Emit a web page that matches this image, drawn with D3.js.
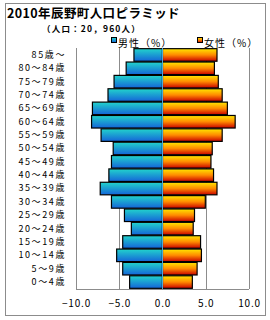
<!DOCTYPE html>
<html>
<head>
<meta charset="utf-8">
<script src="https://cdn.jsdelivr.net/npm/d3@7"></script>
<style>
  body { margin: 0; background: #fff; }
  text { font-family: "Noto Sans CJK JP", "Noto Sans", sans-serif; }
</style>
</head>
<body>
<div id="chart"></div>
<script>
// age groups, top to bottom
const ageGroups = ["85歳～", "80～84歳", "75～79歳", "70～74歳", "65～69歳", "60～64歳",
    "55～59歳", "50～54歳", "45～49歳", "40～44歳", "35～39歳", "30～34歳",
    "25～29歳", "20～24歳", "15～19歳", "10～14歳", "5～9歳", "0～4歳"];
// percent of total population
const maleValues = [3.3, 4.2, 5.6, 6.3, 8.1, 8.2, 7.1, 5.7, 5.9, 6.2, 7.2, 5.9, 4.4, 3.6, 4.6, 5.3, 4.6, 3.8];
const femaleValues = [6.3, 6.0, 6.45, 6.9, 7.5, 8.4, 6.9, 5.75, 5.6, 5.9, 6.3, 4.95, 3.7, 3.55, 4.4, 4.5, 4.0, 3.45];
const xTicks = [-10, -5, 0, 5, 10];
const titleText = "2010年辰野町人口ピラミッド";
const subtitleText = "（人口：20，960人）";
const legendLabels = ["男性（%）", "女性（%）"];

const width = 270, height = 320;
const margin = { top: 48, right: 21, bottom: 31, left: 76 };
const innerW = width - margin.left - margin.right;
const innerH = height - margin.top - margin.bottom;

const svg = d3.select("#chart").append("svg")
    .attr("width", width)
    .attr("height", height);

const defs = svg.append("defs");
const maleGrad = defs.append("linearGradient").attr("id", "maleGrad")
    .attr("x1", 0).attr("y1", 0).attr("x2", 0).attr("y2", 1);
maleGrad.append("stop").attr("offset", "0%").attr("stop-color", "#22d4cc");
maleGrad.append("stop").attr("offset", "100%").attr("stop-color", "#1464d8");
const femaleGrad = defs.append("linearGradient").attr("id", "femaleGrad")
    .attr("x1", 0).attr("y1", 0).attr("x2", 0).attr("y2", 1);
femaleGrad.append("stop").attr("offset", "0%").attr("stop-color", "#ffe800");
femaleGrad.append("stop").attr("offset", "50%").attr("stop-color", "#ff8a00");
femaleGrad.append("stop").attr("offset", "100%").attr("stop-color", "#c80000");

// outer frame
svg.append("rect")
    .attr("x", 5.5).attr("y", 3.5)
    .attr("width", 260).attr("height", 312)
    .attr("fill", "none").attr("stroke", "#8c8c8c");

svg.append("text")
    .attr("x", 7).attr("y", 17.5)
    .attr("font-size", 12.5).attr("font-weight", "bold")
    .attr("letter-spacing", 0.4)
    .text(titleText);

svg.append("text")
    .attr("x", 42).attr("y", 31.5)
    .attr("font-size", 8.5).attr("font-weight", "bold")
    .attr("letter-spacing", 1.2)
    .text(subtitleText);

// legend
const legend = svg.append("g");
[[111, "url(#maleGrad)"], [197, "url(#femaleGrad)"]].forEach((d, i) => {
    legend.append("rect")
        .attr("x", d[0] + 0.5).attr("y", 37.5)
        .attr("width", 5).attr("height", 5)
        .attr("fill", d[1]).attr("stroke", "#000");
    legend.append("text")
        .attr("x", d[0] + 7).attr("y", 46.5)
        .attr("font-size", 10)
        .attr("letter-spacing", 1)
        .text(legendLabels[i]);
});

const chart = svg.append("g")
    .attr("transform", `translate(${margin.left},${margin.top})`);

const xScale = d3.scaleLinear().domain([-10, 10]).range([0, innerW]);
const yScale = d3.scaleBand().domain(ageGroups).range([0, innerH]).paddingInner(0.06).paddingOuter(0.05);

// gridlines
chart.selectAll(".grid")
    .data(xTicks)
    .join("line")
    .attr("x1", d => Math.round(xScale(d)) + 0.5)
    .attr("x2", d => Math.round(xScale(d)) + 0.5)
    .attr("y1", 0).attr("y2", innerH)
    .attr("stroke", "#8c8c8c");

chart.append("line")
    .attr("x1", 0).attr("x2", innerW)
    .attr("y1", innerH + 0.5).attr("y2", innerH + 0.5)
    .attr("stroke", "#8c8c8c");

// male bars (negative side)
chart.selectAll(".male")
    .data(maleValues)
    .join("rect")
    .attr("x", d => xScale(-d))
    .attr("y", (d, i) => yScale(ageGroups[i]))
    .attr("width", d => xScale(0) - xScale(-d))
    .attr("height", yScale.bandwidth())
    .attr("fill", "url(#maleGrad)")
    .attr("stroke", "#000")
    .attr("stroke-width", 1.2);

// female bars
chart.selectAll(".female")
    .data(femaleValues)
    .join("rect")
    .attr("x", xScale(0))
    .attr("y", (d, i) => yScale(ageGroups[i]))
    .attr("width", d => xScale(d) - xScale(0))
    .attr("height", yScale.bandwidth())
    .attr("fill", "url(#femaleGrad)")
    .attr("stroke", "#000")
    .attr("stroke-width", 1.2);

// center axis line
chart.append("line")
    .attr("x1", xScale(0)).attr("x2", xScale(0))
    .attr("y1", 0).attr("y2", innerH)
    .attr("stroke", "#4aa8d8").attr("stroke-width", 1);

// y axis labels
const yAxis = d3.axisLeft(yScale).tickSize(0).tickPadding(10);
chart.append("g")
    .call(yAxis)
    .call(g => g.select(".domain").attr("stroke", "#8c8c8c"))
    .call(g => g.selectAll("text")
        .attr("font-size", 9)
        .attr("letter-spacing", 1.6)
        .attr("fill", "#000"));

// x axis labels
const xAxis = d3.axisBottom(xScale).tickValues(xTicks).tickSize(0).tickPadding(11)
    .tickFormat(d => d3.format(".1f")(d).replace("-", "－"));
chart.append("g")
    .attr("transform", `translate(0,${innerH})`)
    .call(xAxis)
    .call(g => g.select(".domain").remove())
    .call(g => g.selectAll("text")
        .attr("font-size", 10)
        .attr("letter-spacing", 0.8)
        .attr("fill", "#000"));
</script>
</body>
</html>
